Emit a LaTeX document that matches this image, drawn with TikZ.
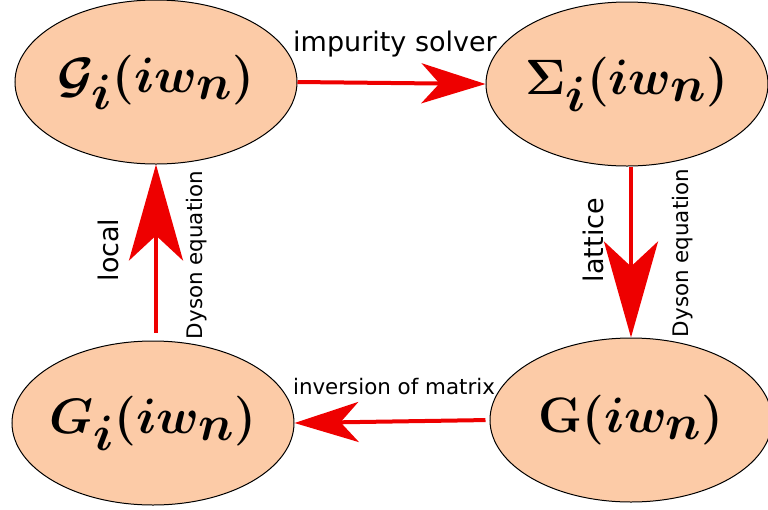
\documentclass[tikz,border=0pt]{standalone}
\usepackage[no-math]{fontspec}
\usepackage{amsmath}
\usetikzlibrary{arrows.meta,positioning,shapes.geometric,calc}
\newfontfamily\labelfont{DejaVu Sans}
\definecolor{dmftpeach}{HTML}{FCCBA7}
\definecolor{dmftred}{HTML}{EE0000}
\tikzset{
  greenfn/.style={ellipse,draw=black,line width=0.5pt,fill=dmftpeach,inner xsep=-25pt,inner ysep=-12pt,minimum width=141pt,minimum height=82pt,font=\fontsize{37}{42}\selectfont\boldmath},
  ar/.style={draw=dmftred,line width=2pt},
  arh/.style={ar,-{Stealth[length=32pt,width=20pt,inset=9pt]}},
  arv/.style={ar,-{Stealth[length=48pt,width=27pt,inset=12.5pt]}},
  biglbl/.style={font=\labelfont\fontsize{13.5}{16}\selectfont,inner sep=0pt},
  smalllbl/.style={font=\labelfont\fontsize{10.7}{13}\selectfont,inner sep=0pt},
}
\begin{document}
\begin{tikzpicture}[x=0.5pt,y=-0.5pt]
  \useasboundingbox (0,0) rectangle (768,510);
  \node[greenfn](gimp) at (156,82){$\mathcal{G}_i(iw_n)$};
  \node[greenfn](sig) at (627,84){$\Sigma_i(iw_n)$};
  \node[greenfn](gloc) at (153,423){$G_i(iw_n)$};
  \node[greenfn](glat) at (631,420){$\mathbf{G}(iw_n)$};
  % connectors
  \draw[arh] (gimp.east) -- (sig.west);
  \draw[arv] (glat.north |- sig.south) -- (glat.north);
  \draw[arh,shorten <=2pt] (glat.west) -- (gloc.east);
  \draw[arv,shorten <=4pt] (gimp.south |- gloc.north) -- (gimp.south);
  % labels
  \node[biglbl](solver) at (395,44){impurity solver};
  \node[smalllbl](invert) at (394,387){inversion of matrix};
  \node[biglbl,rotate=90](local) at (108,250){local};
  \node[smalllbl,rotate=90](dysonl) at (197,255){Dyson equation};
  \node[biglbl,rotate=90](latt) at (593,240){lattice};
  \node[smalllbl,rotate=90](dysonr) at (683,253){Dyson equation};
\end{tikzpicture}
\end{document}
